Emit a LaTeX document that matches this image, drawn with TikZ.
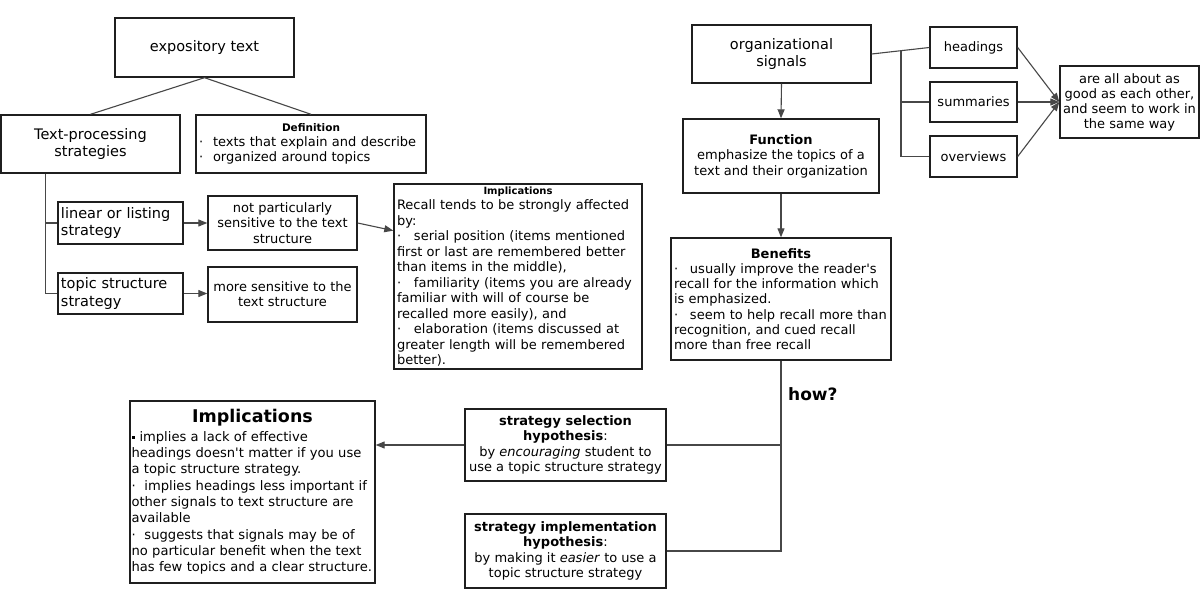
\documentclass[tikz,border=0pt]{standalone}
\usepackage{fontspec}
\setmainfont{DejaVu Sans}
\usetikzlibrary{arrows.meta,calc}
\hyphenpenalty=10000
\exhyphenpenalty=10000
\newcommand{\mybul}[1]{\makebox[#1][l]{·}}
\newcommand{\mysq}[1]{\makebox[#1][l]{\rule[2.5bp]{3bp}{3bp}}}
\begin{document}
\begin{tikzpicture}[x=1bp,y=-1bp,
  box/.style={draw=black!88, line width=1.4bp, inner xsep=3bp, inner ysep=1bp, align=center, font=\fontsize{13bp}{15.3bp}\selectfont},
  big/.style={font=\fontsize{14.5bp}{17.5bp}\selectfont},
  conn/.style={draw=black!72, line width=1.1bp},
  arr/.style={conn, -{Triangle[length=9bp,width=7bp]}},
]
\fill[white] (0,0) rectangle (1200,592);
\useasboundingbox (0,0) rectangle (1200,592);

% left part
\node[box, big, minimum width=179bp, minimum height=59bp] (expo) at (204.5,47.5) {expository text};
\node[box, big, minimum width=179bp, minimum height=58bp] (tps) at (90.5,144) {Text-processing\\strategies};
\node[box, minimum width=230bp, minimum height=58bp, text width=224bp, align=left] (def) at (311,144)
  {\makebox[\linewidth]{\fontsize{10.5bp}{12bp}\selectfont\bfseries Definition}\\[-1bp]
   \mybul{14bp}texts that explain and describe\\
   \mybul{14bp}organized around topics};
\node[box, big, minimum width=125bp, minimum height=42bp, text width=119bp, align=left] (lin) at (120.5,223) {linear or listing\\strategy};
\node[box, big, minimum width=125bp, minimum height=41bp, text width=119bp, align=left] (top) at (120.5,293.5) {topic structure\\strategy};
\node[box, minimum width=149bp, minimum height=54bp] (notp) at (282.5,223) {not particularly\\sensitive to the text\\structure};
\node[box, minimum width=149bp, minimum height=55bp] (more) at (282.5,294.5) {more sensitive to the\\text structure};
\node[box, minimum width=248bp, minimum height=185bp, text width=242bp, align=left, font=\fontsize{13bp}{15.5bp}\selectfont] (impS) at (518,276.5)
  {\makebox[\linewidth]{\fontsize{10bp}{12bp}\selectfont\bfseries Implications}\\[0bp]
   Recall tends to be strongly affected\\
   by:\\
   \mybul{17bp}serial position (items mentioned\\
   first or last are remembered better\\
   than items in the middle),\\
   \mybul{17bp}familiarity (items you are already\\
   familiar with will of course be\\
   recalled more easily), and\\
   \mybul{17bp}elaboration (items discussed at\\
   greater length will be remembered\\
   better).};

% right part
\node[box, big, minimum width=179bp, minimum height=58bp] (org) at (781.5,54) {organizational\\signals};
\node[box, minimum width=87bp, minimum height=41bp] (head) at (973.5,47.5) {headings};
\node[box, minimum width=87bp, minimum height=40bp] (summ) at (973.5,102) {summaries};
\node[box, minimum width=87bp, minimum height=41bp] (over) at (973.5,156.5) {overviews};
\node[box, minimum width=139bp, minimum height=72bp, font=\fontsize{13bp}{15bp}\selectfont] (all) at (1129.5,102) {are all about as\\good as each other,\\and seem to work in\\the same way};
\node[box, minimum width=196bp, minimum height=74bp, font=\fontsize{13bp}{15.5bp}\selectfont] (func) at (781,156) {\textbf{Function}\\emphasize the topics of a\\text and their organization};
\node[box, minimum width=220bp, minimum height=122bp, text width=214bp, align=left, font=\fontsize{13bp}{15.2bp}\selectfont] (ben) at (781,299)
  {\makebox[\linewidth]{\bfseries Benefits}\\
   \mybul{16bp}usually improve the reader\textquotesingle s\\
   recall for the information which\\
   is emphasized.\\
   \mybul{16bp}seem to help recall more than\\
   recognition, and cued recall\\
   more than free recall};
\node[font=\fontsize{17bp}{20bp}\selectfont\bfseries, anchor=west, inner sep=0pt] (how) at (788,394) {how?};

% bottom
\node[box, minimum width=201bp, minimum height=72bp] (sel) at (565.5,445)
  {\textbf{strategy selection}\\\textbf{hypothesis}:\\by \textit{encouraging} student to\\use a topic structure strategy};
\node[box, minimum width=201bp, minimum height=74bp] (impl) at (565.5,551)
  {\textbf{strategy implementation}\\\textbf{hypothesis}:\\by making it \textit{easier} to use a\\topic structure strategy};
\node[box, minimum width=245bp, minimum height=182bp, inner xsep=1.5bp, text width=242bp, align=left, font=\fontsize{13.1bp}{16.3bp}\selectfont] (impB) at (252.5,492)
  {\makebox[\linewidth]{\fontsize{17.5bp}{20bp}\selectfont\bfseries Implications}\\[2bp]
   \mysq{8bp}implies a lack of effective\\
   headings doesn\textquotesingle t matter if you use\\
   a topic structure strategy.\\
   \mybul{13bp}implies headings less important if\\
   other signals to text structure are\\
   available\\
   \mybul{13bp}suggests that signals may be of\\
   no particular benefit when the text\\
   has few topics and a clear structure.};

% connectors left
\draw[conn] (tps.north) -- (expo.south) -- (def.north);
\coordinate (tpsb) at ($(tps.south west)!0.25!(tps.south east)$);
\draw[conn] (tpsb) |- (lin.west);
\draw[conn] (tpsb) |- (top.west);
\draw[arr] (lin.east) -- (notp.west |- lin.east);
\draw[arr] (top.east) -- (more.west |- top.east);
\coordinate (impSin) at ($(impS.north west)!0.254!(impS.south west)$);
\draw[arr] (notp.east) -- (impSin);

% connectors right
\coordinate (j) at ($(org.east)!0.508!(head.west)$);
\draw[conn] (org.east) -- (head.west);
\draw[conn] (j) |- (summ.west);
\draw[conn] (j) |- (over.west);
\draw[arr] (head.east) -- (all.west);
\draw[arr] (summ.east) -- (all.west);
\draw[arr] (over.east) -- (all.west);
\draw[arr] (org.south) -- (func.north);
\draw[arr] (func.south) -- (ben.north);
\draw[conn] (ben.south) |- (impl.east);
\draw[conn] (sel.east) -- (sel.east -| ben.south);
\draw[arr] (sel.west) -- (impB.east |- sel.west);
\end{tikzpicture}
\end{document}
